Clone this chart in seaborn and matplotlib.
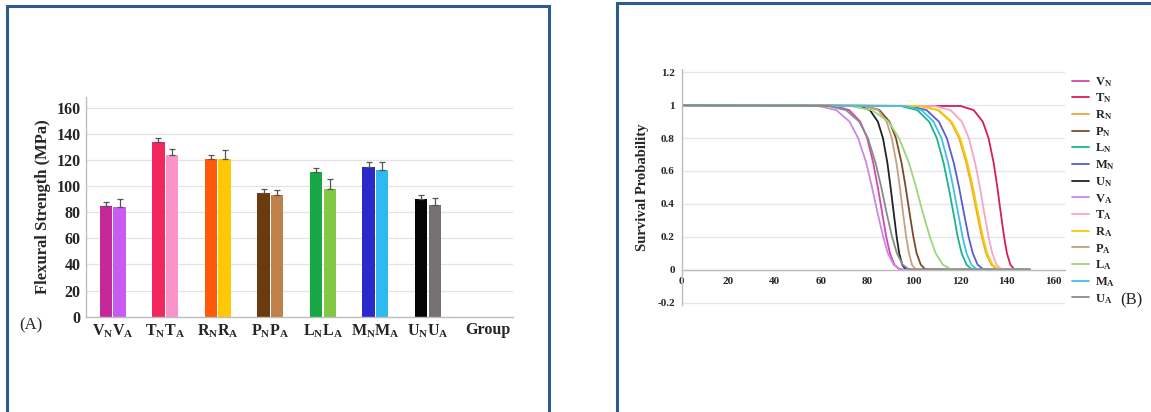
import pandas as pd
import matplotlib
matplotlib.use('Agg')
import matplotlib.pyplot as plt
import seaborn as sns
from matplotlib.patches import Rectangle

# ---- panel A data: flexural strength (MPa) ----
groups = ['V', 'T', 'R', 'P', 'L', 'M', 'U']
strength_n = [84.5, 133.8, 120.8, 94.4, 110.8, 114.6, 90.0]
strength_a = [84.0, 123.6, 120.3, 93.0, 98.0, 112.6, 85.2]
sd_n = [3.5, 2.6, 3.2, 3.5, 3.2, 3.4, 3.0]
sd_a = [6.0, 4.5, 7.0, 4.0, 7.7, 6.0, 5.6]
bar_colors_n = ['#C4289A', '#F2285C', '#FF5A0A', '#6B3A0E', '#17A845', '#2A2ACB', '#050505']
bar_colors_a = ['#C85CF2', '#F993C8', '#FFC805', '#C0804A', '#82C844', '#2EB9F0', '#777272']

# ---- panel B data: survival probability curves (x read at fixed levels) ----
survival_levels = [1, 0.995, 0.97, 0.9, 0.8, 0.65, 0.5, 0.35, 0.2, 0.1, 0.03, 0.005, 0, 0]
curve_vn = [0, 66.0, 72.2, 76.9, 79.9, 82.5, 84.5, 86.3, 88.1, 89.7, 91.6, 93.5, 95.0, 150]
curve_tn = [0, 120.2, 125.8, 129.7, 132.2, 134.4, 136.0, 137.4, 138.9, 140.1, 141.6, 143.1, 144.5, 150]
curve_rn = [0, 102.6, 110.4, 115.9, 119.5, 122.6, 125.0, 127.1, 129.3, 131.1, 133.4, 135.6, 137.0, 150]
curve_pn = [0, 79.2, 85.2, 89.5, 92.3, 94.7, 96.5, 98.1, 99.8, 101.2, 103.0, 104.7, 106.0, 150]
curve_ln = [0, 94.4, 101.5, 106.6, 109.9, 112.8, 115.0, 117.0, 118.9, 120.6, 122.7, 124.8, 126.5, 150]
curve_mn = [0, 98.1, 105.5, 110.8, 114.2, 117.2, 119.5, 121.5, 123.6, 125.4, 127.5, 129.7, 131.0, 150]
curve_un = [0, 76.4, 81.1, 84.5, 86.7, 88.6, 90.0, 91.3, 92.6, 93.7, 95.0, 96.3, 97.5, 150]
curve_va = [0, 59.0, 66.6, 72.3, 76.0, 79.5, 82.0, 84.3, 86.8, 88.8, 91.3, 93.9, 96.0, 150]
curve_ta = [0, 109.1, 115.8, 120.7, 123.7, 126.4, 128.5, 130.3, 132.2, 133.8, 135.6, 137.5, 139.0, 150]
curve_ra = [0, 103.0, 110.8, 116.3, 120.0, 123.1, 125.5, 127.6, 129.8, 131.6, 133.9, 136.2, 137.5, 150]
curve_pa = [0, 79.8, 84.7, 88.3, 90.5, 92.5, 94.0, 95.3, 96.7, 97.9, 99.2, 100.6, 102.0, 150]
curve_la = [0, 72.7, 82.0, 89.1, 93.6, 97.9, 101.0, 103.8, 106.9, 109.4, 112.5, 115.6, 118.0, 150]
curve_ma = [0, 96.1, 103.3, 108.5, 111.9, 114.8, 117.0, 119.0, 121.0, 122.7, 124.8, 126.9, 128.5, 150]
curve_ua = [0, 63.2, 70.8, 76.5, 80.2, 83.5, 86.0, 88.2, 90.6, 92.7, 95.2, 97.6, 99.0, 150]

curve_names = ['VN', 'TN', 'RN', 'PN', 'LN', 'MN', 'UN', 'VA', 'TA', 'RA', 'PA', 'LA', 'MA', 'UA']
curves = [curve_vn, curve_tn, curve_rn, curve_pn, curve_ln, curve_mn, curve_un,
          curve_va, curve_ta, curve_ra, curve_pa, curve_la, curve_ma, curve_ua]
curve_colors = ['#D346B4', '#D81B60', '#F5A040', '#7B4A2A', '#1FB38A', '#5B5BD6', '#222222',
                '#C88AE8', '#F4A6C8', '#F2D000', '#C8A080', '#9CD67A', '#40C0E8', '#8A8A8A']

sns.set_style('white')
plt.rcParams['font.family'] = ['Liberation Serif', 'DejaVu Serif']
plt.rcParams['mathtext.fontset'] = 'custom'
plt.rcParams['mathtext.bf'] = 'Liberation Serif:bold'
plt.rcParams['mathtext.rm'] = 'Liberation Serif:bold'
plt.rcParams['mathtext.default'] = 'bf'

fig = plt.figure(figsize=(11.51, 4.12), dpi=100)

# panel frames
fig.patches.append(Rectangle((7 / 1151, -0.1), 542 / 1151, 1.1 - 6 / 412, transform=fig.transFigure,
                             fill=False, ec='#2E5A8E', lw=2.2))
fig.patches.append(Rectangle((617 / 1151, -0.1), 0.6, 1.1 - 3 / 412, transform=fig.transFigure,
                             fill=False, ec='#2E5A8E', lw=2.2))

# ---------------- panel A ----------------
ax1 = fig.add_axes([0.0747, 0.2313, 0.371, 0.533])
bars = pd.DataFrame({
    'group': groups * 2,
    'value': strength_n + strength_a,
    'kind': ['N'] * len(groups) + ['A'] * len(groups),
})
sns.barplot(data=bars, x='group', y='value', hue='kind', hue_order=['N', 'A'],
            order=groups, width=0.52, gap=0.1, errorbar=None, legend=False, ax=ax1)
for cont, cols, sds in zip(ax1.containers, [bar_colors_n, bar_colors_a], [sd_n, sd_a]):
    for bar, c, s in zip(cont, cols, sds):
        bar.set_facecolor(c)
        bar.set_edgecolor('none')
        cx = bar.get_x() + bar.get_width() / 2
        ax1.errorbar(cx, bar.get_height(), yerr=[[0], [s]], fmt='none',
                     ecolor='#555555', elinewidth=0.9, capsize=2, capthick=0.9)

ax1.set_xlim(-0.51, 7.62)
ax1.set_ylim(0, 168)
ax1.set_yticks(range(0, 161, 20))
ax1.yaxis.grid(True, color='#E3E3E3', lw=0.9)
ax1.set_axisbelow(True)
for s in ['top', 'right']:
    ax1.spines[s].set_visible(False)
for s in ['left', 'bottom']:
    ax1.spines[s].set_color('#BDBDBD')
    ax1.spines[s].set_linewidth(1.0)
ax1.set_xticks(list(range(7)) + [7.14])
ax1.set_xticklabels([rf'${g}_N{g}_A$' for g in groups] + ['Group'])
ax1.tick_params(axis='both', length=0, labelsize=11.5, pad=4)
for lab in ax1.get_yticklabels() + ax1.get_xticklabels():
    lab.set_fontweight('bold')
ax1.set_xlabel('')
ax1.set_ylabel('Flexural Strength (MPa)', fontsize=12, fontweight='bold', labelpad=4)
fig.text(0.0165, 0.2, '(A)', fontsize=12)

# ---------------- panel B ----------------
ax2 = fig.add_axes([0.5923, 0.2597, 0.3327, 0.5728])
rows = []
for name, xs in zip(curve_names, curves):
    for x, s in zip(xs, survival_levels):
        rows.append({'strength': x, 'survival': s, 'series': name})
surv = pd.DataFrame(rows)
sns.lineplot(data=surv, x='strength', y='survival', hue='series', hue_order=curve_names,
             palette=curve_colors, estimator=None, sort=False, lw=1.3, ax=ax2)

ax2.set_xlim(0, 165)
ax2.set_ylim(-0.215, 1.22)
ax2.set_xticks(range(0, 161, 20))
ax2.set_yticks([-0.2, 0, 0.2, 0.4, 0.6, 0.8, 1, 1.2])
ax2.set_yticklabels(['-0.2', '0', '0.2', '0.4', '0.6', '0.8', '1', '1.2'])
ax2.yaxis.grid(True, color='#E6E6E6', lw=0.9)
ax2.set_axisbelow(True)
for s in ['top', 'right']:
    ax2.spines[s].set_visible(False)
ax2.spines['bottom'].set_position(('data', 0))
for s in ['left', 'bottom']:
    ax2.spines[s].set_color('#BDBDBD')
    ax2.spines[s].set_linewidth(1.0)
ax2.tick_params(axis='both', length=0, labelsize=8, pad=5)
for lab in ax2.get_yticklabels() + ax2.get_xticklabels():
    lab.set_fontweight('bold')
ax2.set_xlabel('')
ax2.set_ylabel('Survival Probability', fontsize=10.5, fontweight='bold', labelpad=6)

handles, labels = ax2.get_legend_handles_labels()
ax2.legend(handles, [rf'${n[0]}_{n[1]}$' for n in labels], loc='upper left',
           bbox_to_anchor=(0.931, 0.818), bbox_transform=fig.transFigure,
           frameon=False, fontsize=9, handlelength=1.4, handletextpad=0.5,
           labelspacing=0.23, borderpad=0, borderaxespad=0)
fig.text(0.973, 0.262, '(B)', fontsize=12)

plt.savefig('out.png', dpi=100)
